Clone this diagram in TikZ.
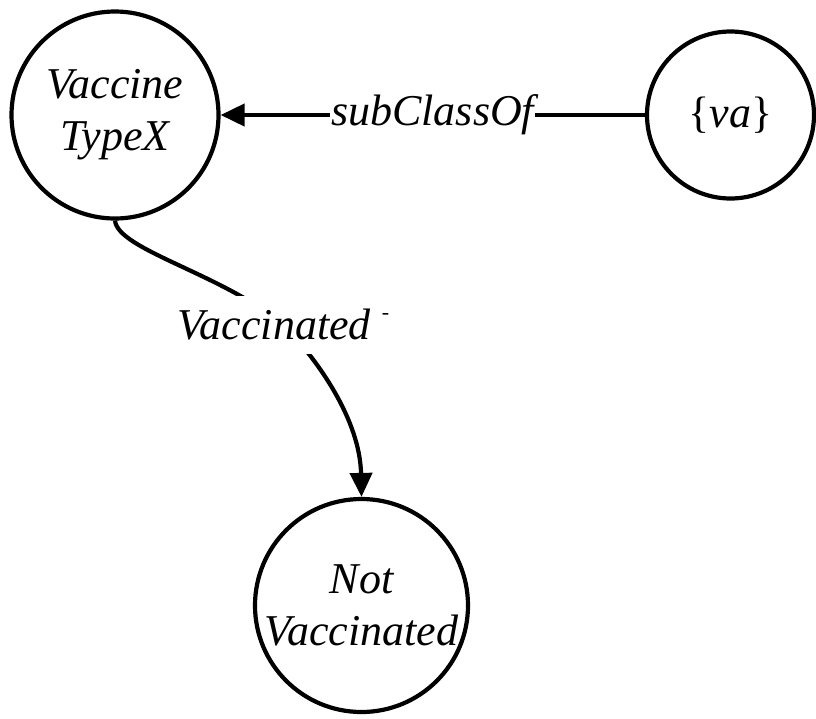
\documentclass[tikz,border=0pt]{standalone}
\usepackage{fontspec}
\setmainfont{Liberation Serif}
\usetikzlibrary{arrows.meta}
\begin{document}
\begin{tikzpicture}[x=1pt,y=-1pt,
  state/.style={circle,draw,line width=4.2pt,inner sep=0pt,align=center,
    font=\itshape\fontsize{44}{52}\selectfont},
  edgelabel/.style={fill=white,font=\itshape\fontsize{44}{52}\selectfont},
  link/.style={line width=4.2pt},
  tip/.style={-{Triangle[length=24pt,width=22pt]}}]
\useasboundingbox (0,0) rectangle (816,718);

% classes
\node[state,minimum size=207pt] (vt) at (115,115) {Vaccine\\TypeX};
\node[state,minimum size=167pt] (va) at (730.5,115) {{\upshape\{}va{\upshape\}}};
\node[state,minimum size=213pt] (nv) at (361.5,605.5) {Not\\Vaccinated};

% subclass relation
\draw[link,tip] (va.west) -- node[edgelabel,inner xsep=1pt,inner ysep=2pt] (sc) {subClassOf} (vt.east);

% inverse property, drawn as a spline through the label position
\coordinate (m) at (283.5,325);
\draw[link] (vt.south) .. controls (118,250) and (223,274) .. (m);
\draw[link,tip] (m) .. controls (318,360) and (360,420) .. (nv.north);
\node[edgelabel,inner xsep=2pt,inner ysep=13pt] (vl) at (m)
  {Vaccinated\hspace{11pt}\raisebox{20pt}{\fontsize{22}{22}\selectfont -}};
\end{tikzpicture}
\end{document}
